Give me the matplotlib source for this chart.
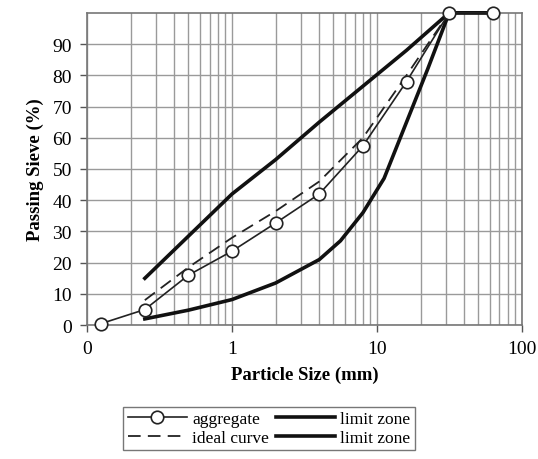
import numpy as np
import matplotlib.pyplot as plt
from matplotlib.ticker import FixedLocator, LogLocator, NullFormatter

# sieve sizes (mm) and passing percentages
agg_size = [0.125, 0.25, 0.5, 1, 2, 4, 8, 16, 31.5, 63]
agg_pass = [0.5, 5, 16, 23.7, 32.7, 42, 57.4, 78, 100, 100]

ideal_size = [0.25, 0.5, 1, 2, 4, 8, 16, 31.5]
ideal_pass = [8, 18.5, 28, 36.5, 46, 60, 80, 100]

upper_size = [0.25, 0.5, 1, 2, 4, 8, 16, 31.5, 63]
upper_pass = [15, 28.5, 42, 53, 65, 76.5, 88, 100, 100]

lower_size = [0.25, 0.5, 1, 2, 4, 5.6, 8, 11.2, 16, 22.4, 31.5, 63]
lower_pass = [2, 4.8, 8.2, 13.5, 21, 27, 36, 47, 65, 82, 100, 100]

x_ticks = [0.1, 1, 10, 100]
x_tick_labels = ["0", "1", "10", "100"]
y_ticks = list(range(0, 100, 10))

plt.rcParams["font.family"] = ["Liberation Serif", "DejaVu Serif"]

fig = plt.figure(figsize=(5.38, 4.6), dpi=100)
ax = fig.add_axes([0.162, 0.291, 0.808, 0.679])

ax.plot(upper_size, upper_pass, color="#111111", lw=2.6, label="limit zone",
        clip_on=False, zorder=3)
ax.plot(lower_size, lower_pass, color="#111111", lw=2.6, label="limit zone",
        clip_on=False, zorder=3)
ax.plot(ideal_size, ideal_pass, color="#222222", lw=1.3, ls=(0, (7, 4)),
        label="ideal curve", zorder=4)
ax.plot(agg_size, agg_pass, color="#222222", lw=1.2, marker="o", ms=9,
        mfc="white", mec="#222222", mew=1.2, label="aggregate",
        clip_on=False, zorder=5)

ax.set_xscale("log")
ax.set_xlim(0.1, 100)
ax.set_ylim(0, 100)
ax.xaxis.set_major_locator(FixedLocator(x_ticks))
ax.set_xticklabels(x_tick_labels)
ax.xaxis.set_minor_locator(LogLocator(base=10, subs=np.arange(2, 10)))
ax.xaxis.set_minor_formatter(NullFormatter())
ax.set_yticks(y_ticks)

ax.grid(True, which="both", color="#9a9a9a", lw=1.0)
ax.tick_params(axis="x", which="minor", length=0)
ax.tick_params(axis="both", which="major", length=5, width=1.0,
               color="#555555", labelsize=14, pad=6)
for s in ax.spines.values():
    s.set_color("#777777")
    s.set_linewidth(1.2)
ax.set_axisbelow(True)

ax.set_xlabel("Particle Size (mm)", fontsize=13.5, fontweight="bold", labelpad=6)
ax.set_ylabel("Passing Sieve (%)", fontsize=13.5, fontweight="bold", labelpad=6)

handles, labels = ax.get_legend_handles_labels()
order = [3, 2, 0, 1]
leg = fig.legend([handles[i] for i in order], [labels[i] for i in order],
                 loc="lower center", bbox_to_anchor=(0.5, 0.0), ncol=2,
                 fontsize=12.5, frameon=True, fancybox=False, edgecolor="#555555",
                 handlelength=3.4, handletextpad=0.3, columnspacing=0.4,
                 labelspacing=0.15, borderpad=0.25)
leg.get_frame().set_linewidth(1.0)

fig.savefig("out.png", dpi=100)
